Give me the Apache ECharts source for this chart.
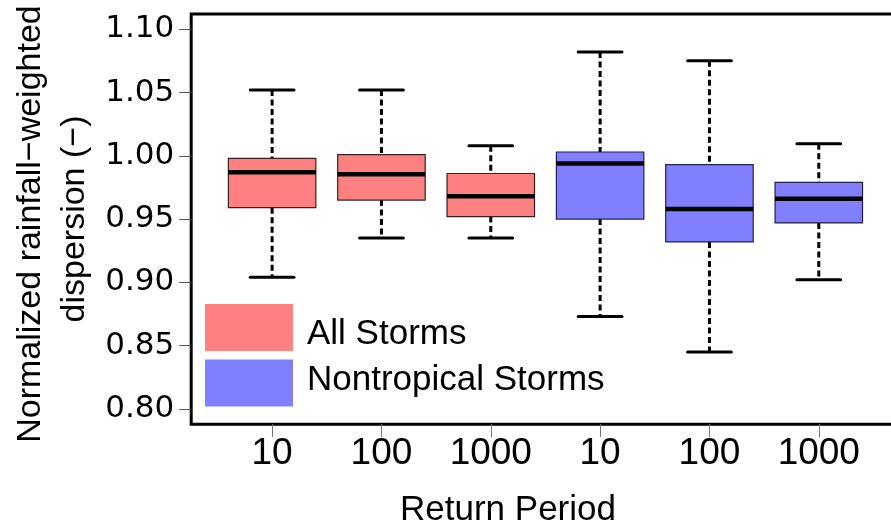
<!DOCTYPE html>
<html><head><meta charset="utf-8">
<script src="https://cdn.jsdelivr.net/npm/echarts@6/dist/echarts.min.js"></script>
<style>html,body{margin:0;padding:0;background:#fff}#c{width:891px;height:525px}</style>
</head><body><div id="c"></div>
<script>
// ---- data ----
const periods = ['10', '100', '1000', '10', '100', '1000'];
const seriesNames = ['All Storms', 'Nontropical Storms'];
const groupOf = [0, 0, 0, 1, 1, 1];
const lowerWhisker = [0.904, 0.935, 0.935, 0.873, 0.845, 0.902];
const q1 =           [0.959, 0.965, 0.952, 0.950, 0.932, 0.947];
const median =       [0.987, 0.9855, 0.968, 0.994, 0.958, 0.966];
const q3 =           [0.998, 1.001, 0.986, 1.003, 0.993, 0.979];
const upperWhisker = [1.052, 1.052, 1.008, 1.082, 1.075, 1.0095];
const yTicks = [0.80, 0.85, 0.90, 0.95, 1.00, 1.05, 1.10];

// ---- styles ----
const fills = ['#FF8080', '#8080FF'];
const strokes = ['#3a2020', '#20204a'];
const FONT = 'Liberation Sans, Arial, sans-serif';

const positions = periods.map((_, i) => i + 1);
const xRange = [0.5, periods.length + 0.5];
const xPad = (xRange[1] - xRange[0]) * 0.04;
const yRange = [yTicks[0], yTicks[yTicks.length - 1]];
const yPad = (yRange[1] - yRange[0]) * 0.04;

function seriesData(g) {
  const out = [];
  positions.forEach((p, i) => {
    if (groupOf[i] === g) out.push([p, lowerWhisker[i], q1[i], median[i], q3[i], upperWhisker[i]]);
  });
  return out;
}

function makeRender(g) {
  return function (params, api) {
    const x = api.value(0);
    const lo = api.coord([x, api.value(1)]);
    const b1 = api.coord([x, api.value(2)]);
    const md = api.coord([x, api.value(3)]);
    const b3 = api.coord([x, api.value(4)]);
    const hi = api.coord([x, api.value(5)]);
    const hb = api.size([0.8, 0])[0] / 2;
    const hc = api.size([0.4, 0])[0] / 2;
    const cx = lo[0];
    const dash = { stroke: '#000', lineWidth: 3, lineDash: [6, 3.5], fill: null };
    const cap = { stroke: '#000', lineWidth: 3, lineCap: 'round', fill: null };
    return {
      type: 'group',
      children: [
        { type: 'line', shape: { x1: cx, y1: hi[1], x2: cx, y2: b3[1] }, style: dash },
        { type: 'line', shape: { x1: cx, y1: b1[1], x2: cx, y2: lo[1] }, style: dash },
        { type: 'line', shape: { x1: cx - hc, y1: hi[1], x2: cx + hc, y2: hi[1] }, style: cap },
        { type: 'line', shape: { x1: cx - hc, y1: lo[1], x2: cx + hc, y2: lo[1] }, style: cap },
        { type: 'rect', shape: { x: cx - hb, y: b3[1], width: 2 * hb, height: b1[1] - b3[1] },
          style: { fill: fills[g], stroke: strokes[g], lineWidth: 1.2 } },
        { type: 'line', shape: { x1: cx - hb, y1: md[1], x2: cx + hb, y2: md[1] },
          style: { stroke: '#000', lineWidth: 4.5, fill: null } }
      ]
    };
  };
}

const chart = echarts.init(document.getElementById('c'), null, { renderer: 'canvas' });
chart.setOption({
  animation: false,
  backgroundColor: '#fff',
  grid: { left: 191.2, top: 14, width: 708.5, height: 410.2, show: true,
          outerBoundsMode: 'none', containLabel: false,
          borderColor: '#000', borderWidth: 3, backgroundColor: 'transparent' },
  xAxis: {
    type: 'value', min: xRange[0] - xPad, max: xRange[1] + xPad,
    axisLine: { show: false }, splitLine: { show: false },
    axisTick: { show: true, customValues: positions, length: 13, lineStyle: { color: '#777', width: 1 } },
    axisLabel: { customValues: positions, formatter: v => periods[Math.round(v) - 1],
                 margin: 11, fontSize: 37, fontFamily: FONT, color: '#000' }
  },
  yAxis: {
    type: 'value', min: yRange[0] - yPad, max: yRange[1] + yPad,
    axisLine: { show: false }, splitLine: { show: false },
    axisTick: { show: true, customValues: yTicks, length: 12, lineStyle: { color: '#555', width: 1 } },
    axisLabel: { customValues: yTicks, formatter: v => v.toFixed(2),
                 margin: 17, fontSize: 31, fontFamily: 'DejaVu Sans, sans-serif', color: '#000' }
  },
  legend: {
    data: seriesNames, orient: 'vertical', left: 205, top: 304, padding: 0,
    itemWidth: 88, itemHeight: 47, itemGap: 8, icon: 'rect',
    itemStyle: { borderWidth: 0 },
    formatter: name => (name === seriesNames[0] ? '{a|' : '{b|') + name + '}',
    textStyle: {
      fontSize: 35, fontFamily: FONT, color: '#000',
      rich: {
        a: { fontSize: 35, fontFamily: FONT, color: '#000', padding: [13, 0, 0, 9] },
        b: { fontSize: 35, fontFamily: FONT, color: '#000', padding: [0, 0, 5, 9] }
      }
    },
    selectedMode: false
  },
  series: seriesNames.map((name, g) => ({
    type: 'custom', name: name, data: seriesData(g),
    renderItem: makeRender(g),
    itemStyle: { color: fills[g] },
    encode: { x: 0, y: [1, 2, 3, 4, 5] }
  })),
  graphic: [
    { type: 'text', x: 508, y: 510,
      style: { text: 'Return Period', font: '35px ' + FONT, fill: '#000', textAlign: 'center', textVerticalAlign: 'middle' } },
    { type: 'text', x: 30.5, y: 224, rotation: Math.PI / 2,
      style: { text: 'Normalized rainfall\u2212weighted', font: '34px ' + FONT, fill: '#000', textAlign: 'center', textVerticalAlign: 'middle' } },
    { type: 'text', x: 75, y: 219, rotation: Math.PI / 2,
      style: { text: 'dispersion (\u2212)', font: '34px ' + FONT, fill: '#000', textAlign: 'center', textVerticalAlign: 'middle' } }
  ]
});
</script>
</body></html>
